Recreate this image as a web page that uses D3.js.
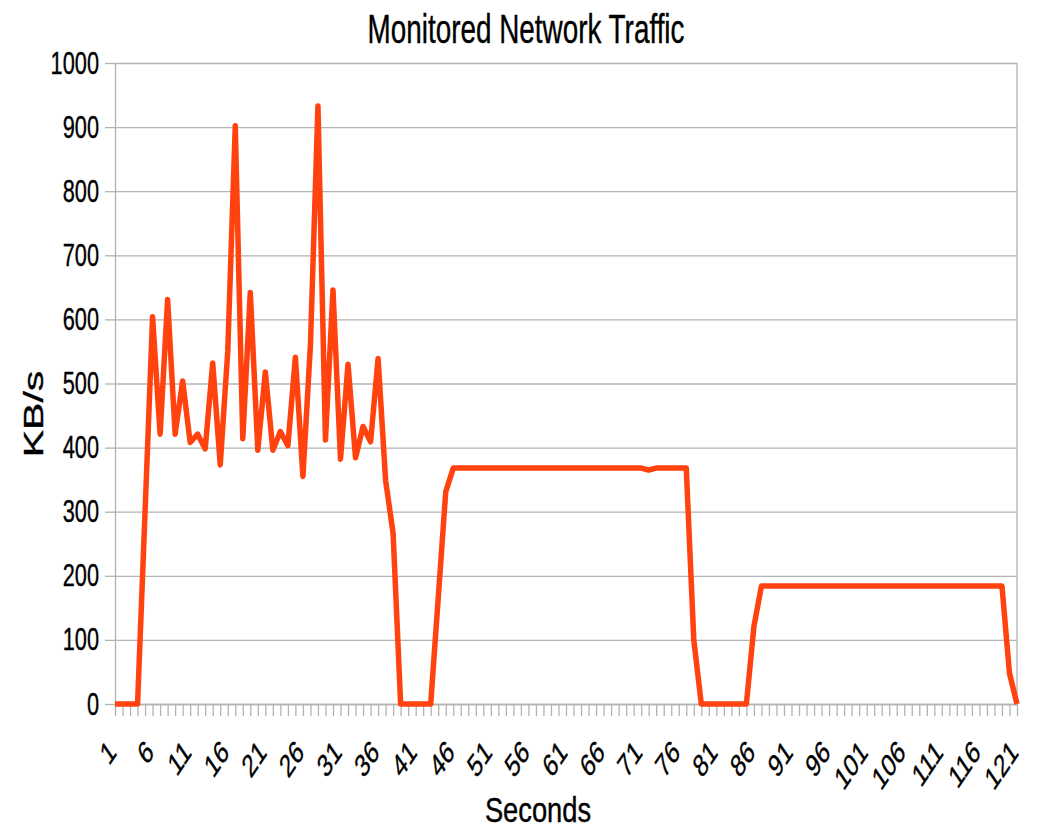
<!DOCTYPE html>
<html>
<head>
<meta charset="utf-8">
<script src="https://cdn.jsdelivr.net/npm/d3@7"></script>
<style>
  body { margin: 0; background: #fff; }
  svg { display: block; font-family: 'Liberation Sans', Arial, sans-serif; }
</style>
</head>
<body>
<div id="chart"></div>
<script>
// seconds 1..121 on the category axis
const seconds = d3.range(1, 122);
const tickLabels = [1, 6, 11, 16, 21, 26, 31, 36, 41, 46, 51, 56, 61, 66, 71, 76, 81, 86, 91, 96, 101, 106, 111, 116, 121];
const yTicks = [0, 100, 200, 300, 400, 500, 600, 700, 800, 900, 1000];

// KB/s per second
const traffic = [
  0, 0, 0, 0, 300, 604, 421, 631, 421, 504,
  408, 421, 398, 532, 373, 550, 902, 414, 642, 396,
  518, 396, 425, 403, 541, 355, 560, 933, 412, 646,
  382, 530, 384, 433, 409, 539, 349, 266, 0, 0,
  0, 0, 0, 165, 331, 368, 368, 368, 368, 368,
  368, 368, 368, 368, 368, 368, 368, 368, 368, 368,
  368, 368, 368, 368, 368, 368, 368, 368, 368, 368,
  368, 365, 368, 368, 368, 368, 368, 100, 0, 0,
  0, 0, 0, 0, 0, 121, 184, 184, 184, 184,
  184, 184, 184, 184, 184, 184, 184, 184, 184, 184,
  184, 184, 184, 184, 184, 184, 184, 184, 184, 184,
  184, 184, 184, 184, 184, 184, 184, 184, 184, 48,
  0
];

const W = 1038, H = 829;
const margin = {top: 63, right: 21, bottom: 125, left: 115};
const width = W - margin.left - margin.right;
const height = H - margin.top - margin.bottom;
const squeeze = 0.68; // text in the picture is narrow and tall

const svg = d3.select('#chart').append('svg')
  .attr('width', W)
  .attr('height', H);

const g = svg.append('g')
  .attr('transform', 'translate(' + margin.left + ',' + margin.top + ')');

const x = d3.scalePoint()
  .domain(seconds)
  .range([0, width]);

const y = d3.scaleLinear()
  .domain([0, 1000])
  .range([height, 0]);

// horizontal grid
g.append('g')
  .attr('class', 'grid')
  .call(d3.axisLeft(y).tickValues(yTicks).tickSize(-width).tickFormat(''))
  .call(s => s.select('.domain').remove())
  .selectAll('line')
  .attr('stroke', '#b3b3b3')
  .attr('stroke-width', 1.3);

// right border
g.append('line')
  .attr('x1', width).attr('x2', width)
  .attr('y1', 0).attr('y2', height)
  .attr('stroke', '#b3b3b3')
  .attr('stroke-width', 1.3);

// Y axis
const yAxis = g.append('g')
  .call(d3.axisLeft(y).tickValues(yTicks).tickSize(10).tickSizeOuter(0)
    .tickFormat(d3.format('d')));
yAxis.select('.domain').attr('stroke', '#b3b3b3').attr('stroke-width', 1.3);
yAxis.selectAll('line').attr('stroke', '#b3b3b3').attr('stroke-width', 1.3);
yAxis.selectAll('text')
  .attr('x', 0).attr('dy', 0)
  .attr('text-anchor', 'end')
  .attr('transform', 'translate(-16,10) scale(' + squeeze + ',1)')
  .style('font-size', '32px')
  .style('fill', '#000')
  .style('stroke', '#000')
  .style('stroke-width', 0.4);

// X axis
const xAxis = g.append('g')
  .attr('transform', 'translate(0,' + height + ')')
  .call(d3.axisBottom(x).tickSize(12).tickSizeOuter(0)
    .tickFormat(d => tickLabels.includes(d) ? d : ''));
xAxis.select('.domain').attr('stroke', '#b3b3b3').attr('stroke-width', 1.3);
xAxis.selectAll('line').attr('stroke', '#b3b3b3').attr('stroke-width', 1.3);
xAxis.selectAll('text')
  .attr('y', 0).attr('dy', 0)
  .attr('text-anchor', 'end')
  .attr('transform', 'translate(2,50) scale(' + squeeze + ',1) rotate(-45)')
  .style('font-size', '32px')
  .style('fill', '#000')
  .style('stroke', '#000')
  .style('stroke-width', 0.4);

// the traffic line
const line = d3.line()
  .x((d, i) => x(seconds[i]))
  .y(d => y(d));

g.append('path')
  .datum(traffic)
  .attr('fill', 'none')
  .attr('stroke', '#ff420e')
  .attr('stroke-width', 5.5)
  .attr('stroke-linejoin', 'round')
  .attr('d', line);

// title
svg.append('text')
  .attr('transform', 'translate(526,43) scale(' + squeeze + ',1)')
  .attr('text-anchor', 'middle')
  .style('font-size', '41px')
  .style('stroke', '#000')
  .style('stroke-width', 0.4)
  .text('Monitored Network Traffic');

// axis titles
svg.append('text')
  .attr('transform', 'translate(538,822) scale(0.78,1)')
  .attr('text-anchor', 'middle')
  .style('font-size', '35px')
  .style('stroke', '#000')
  .style('stroke-width', 0.4)
  .text('Seconds');

svg.append('text')
  .attr('transform', 'translate(43,414) rotate(-90) scale(1,' + squeeze + ')')
  .attr('text-anchor', 'middle')
  .style('font-size', '41px')
  .style('stroke', '#000')
  .style('stroke-width', 0.5)
  .text('KB/s');
</script>
</body>
</html>
